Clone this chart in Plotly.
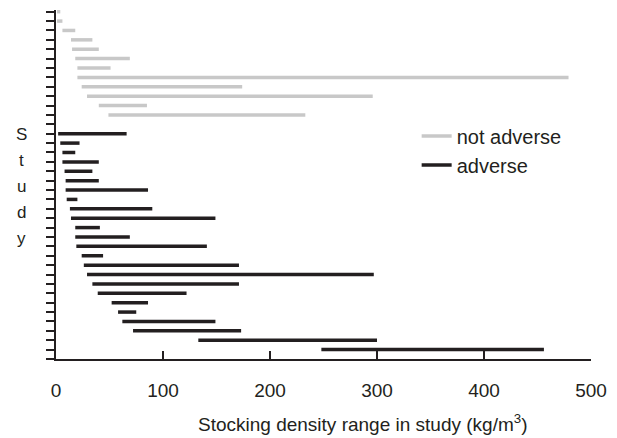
import plotly.graph_objects as go

# Stocking density range (kg/m3) covered by each study, listed top to bottom.
# Row 12 is the blank separator between the two groups.
not_adverse_rows = [0, 1, 2, 3, 4, 5, 6, 7, 8, 9, 10, 11]
not_adverse_low = [1, 1, 6, 14, 15, 18, 20, 20, 24, 29, 40, 49]
not_adverse_high = [4, 6, 18, 34, 40, 69, 51, 479, 174, 296, 85, 233]

adverse_rows = list(range(13, 37))
adverse_low = [2, 4, 6, 6, 8, 9, 9, 10, 13, 14, 18, 18,
               19, 24, 26, 29, 34, 39, 52, 58, 62, 72, 133, 248]
adverse_high = [66, 22, 18, 40, 34, 40, 86, 20, 90, 149, 41, 69,
                141, 44, 171, 297, 171, 122, 86, 75, 149, 173, 300, 456]

x_ticks = [0, 100, 200, 300, 400, 500]
n_rows = 37

INK = "#231f20"
GREY = "#c8c8c8"
FONT = "Liberation Sans, Arial, sans-serif"


def segments(rows, low, high):
    xs, ys = [], []
    for r, a, b in zip(rows, low, high):
        xs += [a, b, None]
        ys += [r, r, None]
    return xs, ys


fig = go.Figure()
gx, gy = segments(not_adverse_rows, not_adverse_low, not_adverse_high)
fig.add_trace(go.Scatter(x=gx, y=gy, mode="lines", name="not adverse",
                         legendgroup="na",
                         line=dict(color=GREY, width=3.5)))
bx, by = segments(adverse_rows, adverse_low, adverse_high)
fig.add_trace(go.Scatter(x=bx, y=by, mode="lines", name="adverse",
                         legendgroup="ad",
                         line=dict(color=INK, width=3.5)))

# plot area in pixels
L, R, T, B = 55.7, 592.7, 10.0, 359.3
W, H = 617, 438
pw, ph = R - L, B - T


def px_x(x):
    return (x - L) / pw


def px_y(y):
    return (B - y) / ph


annotations = []
# vertical "Study" label, one letter per line
for i, ch in enumerate("Study"):
    annotations.append(dict(
        text=ch, x=px_x(20.7), y=px_y(135 + 25.8 * i), xref="paper", yref="paper",
        xanchor="center", yanchor="middle", showarrow=False,
        font=dict(family=FONT, size=17, color=INK)))
annotations.append(dict(
    text="Stocking density range in study (kg/m<sup>3</sup>)",
    x=px_x(363.5), y=px_y(423), xref="paper", yref="paper",
    xanchor="center", yanchor="middle", showarrow=False,
    font=dict(family=FONT, size=19, color=INK)))

fig.update_layout(
    width=W, height=H,
    margin=dict(l=L, r=W - R, t=T, b=H - B, pad=0),
    paper_bgcolor="white", plot_bgcolor="white",
    font=dict(family=FONT, color=INK),
    showlegend=True,
    legend=dict(x=px_x(417.7), y=px_y(116.7), xanchor="left", yanchor="top",
                bgcolor="rgba(0,0,0,0)", borderwidth=0,
                font=dict(family=FONT, size=20, color=INK),
                tracegroupgap=5, traceorder="normal"),
    annotations=annotations,
    xaxis=dict(range=[0, 500], tickvals=x_ticks, ticktext=[str(v) for v in x_ticks],
               showgrid=False, zeroline=False, showline=True, linecolor=INK,
               linewidth=2, ticks="inside", ticklen=8, tickwidth=2, tickcolor=INK,
               tickfont=dict(family=FONT, size=19, color=INK),
               ticklabelstandoff=13),
    yaxis=dict(range=[n_rows, -0.18], tickvals=list(range(n_rows + 1)),
               showticklabels=False, showgrid=False, zeroline=False,
               showline=True, linecolor=INK, linewidth=2,
               ticks="outside", ticklen=8, tickwidth=2, tickcolor=INK),
)

fig.write_html("out.html")
